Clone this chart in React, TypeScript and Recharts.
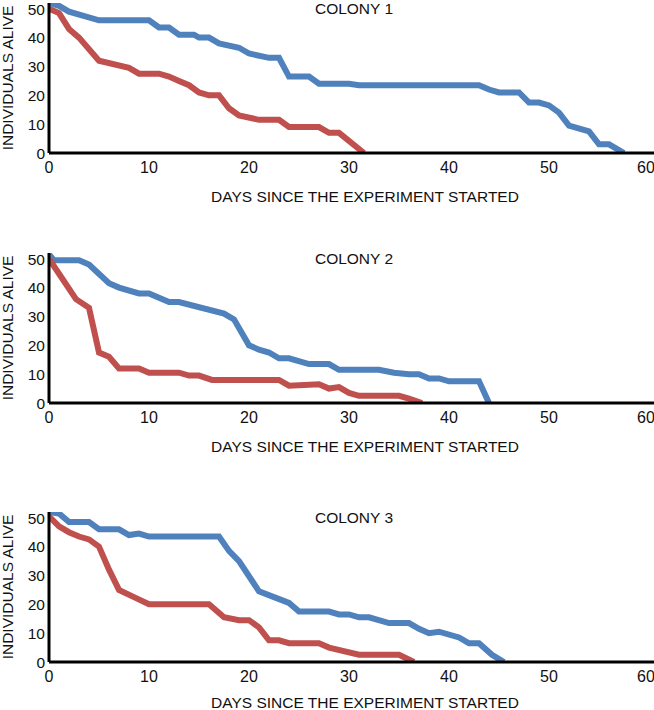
import React from 'react';
import { LineChart, Line, XAxis, YAxis } from 'recharts';

// [day, individuals alive]
const colony1Blue = [
  [0, 52], [1, 51], [2, 49], [5, 46], [10, 46], [11, 43.5], [12, 43.5], [13, 41], [14.5, 41],
  [15, 40], [16, 40], [17, 38], [19, 36.5], [20, 34.5], [22, 33], [23, 33], [24, 26.5],
  [26, 26.5], [27, 24], [30, 24], [31, 23.5], [43, 23.5], [44, 22], [45, 21], [47, 21],
  [48, 17.5], [49, 17.5], [50, 16.5], [51, 14], [52, 9.5], [54, 7.5], [55, 3], [56, 3], [57.5, 0],
];
const colony1Red = [
  [0, 50], [1, 48.5], [2, 43], [3, 40], [5, 32], [8, 29.5], [9, 27.5], [11, 27.5], [12, 26.5],
  [13, 25], [14, 23.5], [15, 21], [16, 20], [17, 20], [18, 15.5], [19, 13], [21, 11.5],
  [23, 11.5], [24, 9], [27, 9], [28, 7], [29, 7], [31.5, 0],
];
const colony2Blue = [
  [0, 51.5], [0.5, 49.5], [3, 49.5], [4, 48], [6, 41.5], [7, 40], [9, 38], [10, 38], [12, 35],
  [13, 35], [17.5, 31], [18.5, 29], [19, 26], [20, 20], [21, 18.5], [22, 17.5], [23, 15.5],
  [24, 15.5], [26, 13.5], [28, 13.5], [29, 11.5], [33, 11.5], [34.5, 10.5], [36, 10], [37, 10],
  [38, 8.5], [39, 8.5], [40, 7.5], [43, 7.5], [44, 0],
];
const colony2Red = [
  [0, 50], [2.7, 36], [4, 33], [5, 17.5], [6, 16], [7, 12], [9, 12], [10, 10.5], [13, 10.5],
  [14, 9.5], [15, 9.5], [16.3, 8], [23, 8], [24, 6], [27, 6.5], [28, 5], [29, 5.5], [30, 3.5],
  [31, 2.5], [35, 2.5], [36, 1.5], [37.3, 0],
];
const colony3Blue = [
  [0, 52], [1, 51.5], [2, 48.5], [4, 48.5], [5, 46], [7, 46], [8, 44], [9, 44.5], [10, 43.5],
  [17, 43.5], [18, 38.5], [19, 35], [21, 24.5], [22.5, 22.5], [24, 20.5], [25, 17.5], [28, 17.5],
  [29, 16.5], [30, 16.5], [31, 15.5], [32, 15.5], [34, 13.5], [36, 13.5], [37, 11.5], [38, 10],
  [39, 10.5], [41, 8.5], [42, 6.5], [43, 6.5], [44.3, 2.5], [45.5, 0],
];
const colony3Red = [
  [0, 50.5], [1, 47], [2, 45], [3, 43.5], [4, 42.5], [5, 40], [6, 32], [7, 25], [8.5, 22.5],
  [10, 20], [16, 20], [17.5, 15.5], [19, 14.5], [20, 14.5], [21, 12], [22, 7.5], [23, 7.5],
  [24, 6.5], [27, 6.5], [28, 5], [31, 2.5], [35, 2.5], [36.5, 0],
];

const xTicks = [0, 10, 20, 30, 40, 50, 60];
const yTicks = [0, 10, 20, 30, 40, 50];

const BLUE = '#4F81BD';
const RED = '#C0504D';
const FONT = 'Arial, "Liberation Sans", sans-serif';

const toPoints = (rows: number[][]) => rows.map(([day, alive]) => ({ day, alive }));

const panels = [
  { title: 'COLONY 1', top: 0, labelY: 202, blue: colony1Blue, red: colony1Red },
  { title: 'COLONY 2', top: 250, labelY: 202, blue: colony2Blue, red: colony2Red },
  { title: 'COLONY 3', top: 509, labelY: 199, blue: colony3Blue, red: colony3Red },
];

type PanelProps = { title: string; top: number; labelY: number; blue: number[][]; red: number[][] };

const Panel = ({ title, top, labelY, blue, red }: PanelProps) => (
  <div style={{ position: 'absolute', left: 0, top, width: 654, height: 210 }}>
    <LineChart width={654} height={210} margin={{ top: 3, right: 0, left: 0, bottom: 0 }}>
      <XAxis
        type="number"
        dataKey="day"
        domain={[0, 60.5]}
        ticks={xTicks}
        allowDataOverflow
        height={57}
        tickSize={0}
        tickMargin={9}
        axisLine={{ stroke: '#000', strokeWidth: 3 }}
        tick={{ fill: '#111', fontSize: 16, fontFamily: FONT }}
        label={{
          content: () => (
            <text x={365} y={labelY} textAnchor="middle" fill="#111" fontSize={15.5} fontFamily={FONT}>
              DAYS SINCE THE EXPERIMENT STARTED
            </text>
          ),
        }}
      />
      <YAxis
        type="number"
        domain={[0, 52]}
        ticks={yTicks}
        allowDataOverflow
        width={49}
        tickSize={0}
        tickMargin={4}
        axisLine={{ stroke: '#000', strokeWidth: 3 }}
        tick={{ fill: '#111', fontSize: 15.5, fontFamily: FONT }}
        label={{
          content: () => (
            <text
              x={13}
              y={78}
              transform="rotate(-90, 13, 78)"
              textAnchor="middle"
              fill="#111"
              fontSize={15.5}
              fontFamily={FONT}
            >
              INDIVIDUALS ALIVE
            </text>
          ),
        }}
      />
      <Line
        data={toPoints(blue)}
        dataKey="alive"
        type="linear"
        stroke={BLUE}
        strokeWidth={6}
        dot={false}
        isAnimationActive={false}
      />
      <Line
        data={toPoints(red)}
        dataKey="alive"
        type="linear"
        stroke={RED}
        strokeWidth={6}
        dot={false}
        isAnimationActive={false}
      />
    </LineChart>
    <div
      style={{
        position: 'absolute',
        left: 354,
        top: 0,
        transform: 'translateX(-50%)',
        fontFamily: FONT,
        fontSize: 15.5,
        lineHeight: '18px',
        color: '#111',
        whiteSpace: 'nowrap',
      }}
    >
      {title}
    </div>
  </div>
);

export default function App() {
  return (
    <div style={{ position: 'absolute', left: 0, top: 0, width: 654, height: 710, overflow: 'hidden', background: '#fff' }}>
      {panels.map((p) => (
        <Panel key={p.title} {...p} />
      ))}
    </div>
  );
}
